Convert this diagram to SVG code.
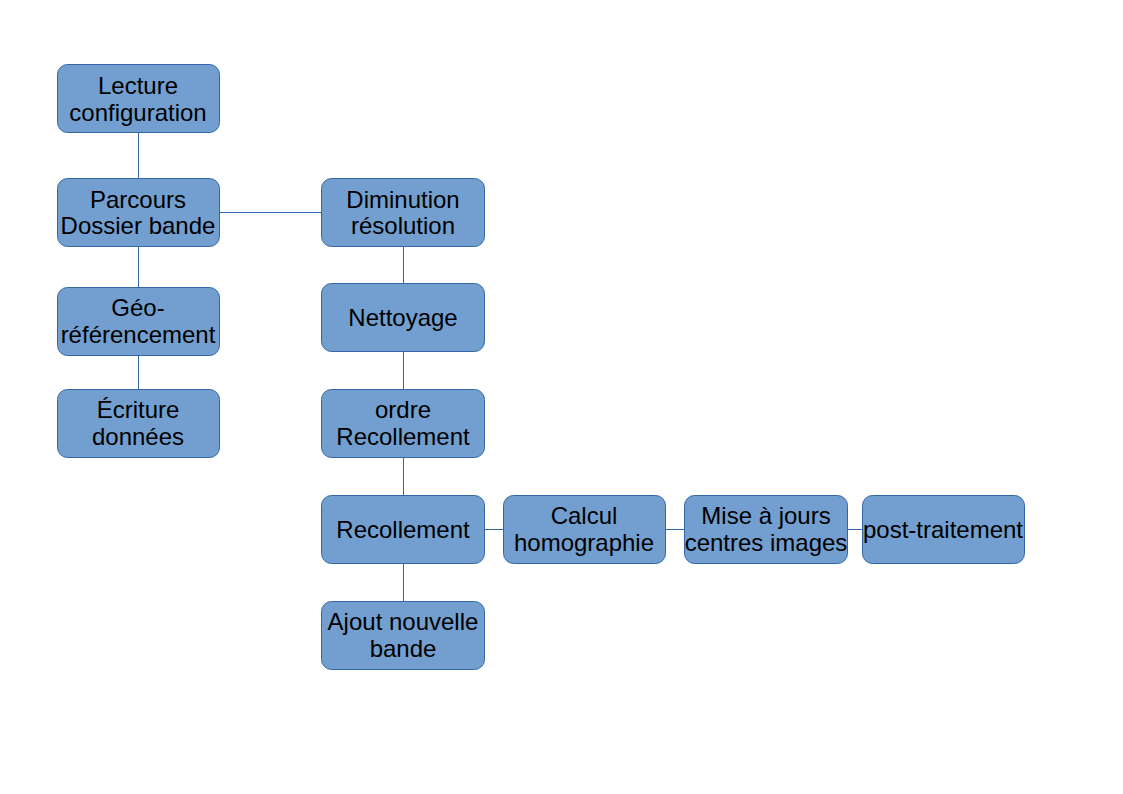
<svg xmlns="http://www.w3.org/2000/svg" width="1123" height="794" viewBox="0 0 1123 794">
<style>
.n rect{fill:#729fcf;stroke:#3465a4;stroke-width:1}
.n text{font-family:"Liberation Sans",Arial,sans-serif;font-size:24px;fill:#000;text-anchor:middle}
.c line{stroke:#3465a4;stroke-width:1}
</style>
<rect width="1123" height="794" fill="#fff"/>
<g class="c" id="connectors">
<line x1="138.5" y1="132" x2="138.5" y2="178"/>
<line x1="138.5" y1="246" x2="138.5" y2="287"/>
<line x1="138.5" y1="355" x2="138.5" y2="389"/>
<line x1="219" y1="212.5" x2="321" y2="212.5"/>
<line x1="403.5" y1="246" x2="403.5" y2="283"/>
<line x1="403.5" y1="351" x2="403.5" y2="389"/>
<line x1="403.5" y1="457" x2="403.5" y2="495"/>
<line x1="403.5" y1="563" x2="403.5" y2="601"/>
<line x1="484" y1="529.5" x2="503" y2="529.5"/>
<line x1="665" y1="529.5" x2="684" y2="529.5"/>
<line x1="847" y1="529.5" x2="862" y2="529.5"/>
</g>
<g class="n" id="lecture"><rect x="57.5" y="64.5" width="162" height="68" rx="10"/><text x="138" y="93.5">Lecture</text><text x="138" y="120.5">configuration</text></g>
<g class="n" id="parcours"><rect x="57.5" y="178.5" width="162" height="68" rx="10"/><text x="138" y="207.5">Parcours</text><text x="138" y="234">Dossier bande</text></g>
<g class="n" id="geo"><rect x="57.5" y="287.5" width="162" height="68" rx="10"/><text x="138" y="316">Géo-</text><text x="138" y="343">référencement</text></g>
<g class="n" id="ecriture"><rect x="57.5" y="389.5" width="162" height="68" rx="10"/><text x="138" y="418">Écriture</text><text x="138" y="445">données</text></g>
<g class="n" id="diminution"><rect x="321.5" y="178.5" width="163" height="68" rx="10"/><text x="403" y="207.5">Diminution</text><text x="403" y="234">résolution</text></g>
<g class="n" id="nettoyage"><rect x="321.5" y="283.5" width="163" height="68" rx="10"/><text x="403" y="326">Nettoyage</text></g>
<g class="n" id="ordre"><rect x="321.5" y="389.5" width="163" height="68" rx="10"/><text x="403" y="418">ordre</text><text x="403" y="445">Recollement</text></g>
<g class="n" id="recollement"><rect x="321.5" y="495.5" width="163" height="68" rx="10"/><text x="403" y="537.5">Recollement</text></g>
<g class="n" id="ajout"><rect x="321.5" y="601.5" width="163" height="68" rx="10"/><text x="403" y="630">Ajout nouvelle</text><text x="403" y="657">bande</text></g>
<g class="n" id="calcul"><rect x="503.5" y="495.5" width="162" height="68" rx="10"/><text x="584" y="524">Calcul</text><text x="584" y="551">homographie</text></g>
<g class="n" id="mise"><rect x="684.5" y="495.5" width="163" height="68" rx="10"/><text x="766" y="524">Mise à jours</text><text x="766" y="551">centres images</text></g>
<g class="n" id="post"><rect x="862.5" y="495.5" width="162" height="68" rx="10"/><text x="943" y="537.5">post-traitement</text></g>
</svg>
